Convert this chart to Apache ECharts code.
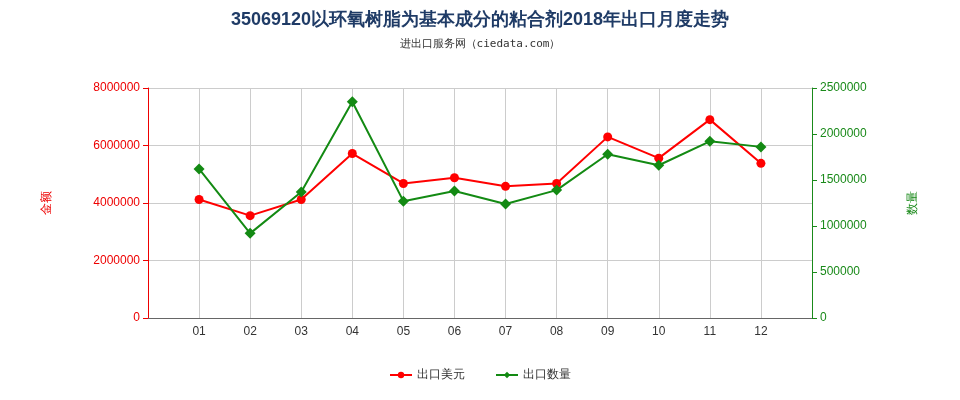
<!DOCTYPE html>
<html><head><meta charset="utf-8">
<script src="https://cdn.jsdelivr.net/npm/echarts@6/dist/echarts.min.js"></script>
<style>body{margin:0}#c{width:960px;height:400px}</style>
</head><body><div id="c"></div>
<script>
var months = ['', '01', '02', '03', '04', '05', '06', '07', '08', '09', '10', '11', '12', ''];
var amount = ['-', 4120000, 3560000, 4120000, 5720000, 4680000, 4880000, 4580000, 4680000, 6300000, 5560000, 6900000, 5380000, '-'];
var quantity = ['-', 1620000, 920000, 1370000, 2350000, 1270000, 1380000, 1240000, 1390000, 1780000, 1660000, 1920000, 1860000, '-'];

var chart = echarts.init(document.getElementById('c'));
chart.setOption({
    title: {
        text: '35069120以环氧树脂为基本成分的粘合剂2018年出口月度走势',
        subtext: '进出口服务网（ciedata.com）',
        left: 'center', top: 6,
        textStyle: {color: '#1f3b66', fontSize: 18, fontWeight: 'bold'},
        subtextStyle: {color: '#333', fontSize: 11, fontFamily: 'DejaVu Sans Mono'}
    },
    legend: {
        bottom: 14, itemGap: 30, itemWidth: 22, itemHeight: 8,
        data: ['出口美元', '出口数量'],
        textStyle: {fontSize: 12, color: '#333'}
    },
    grid: {left: 148, right: 148, top: 88, bottom: 82},
    xAxis: {
        type: 'category', data: months, boundaryGap: false,
        axisLine: {lineStyle: {color: '#666'}},
        axisTick: {show: false},
        axisLabel: {color: '#333', fontSize: 12, interval: 0},
        splitLine: {show: true, lineStyle: {color: '#ccc'}}
    },
    yAxis: [{
        type: 'value', min: 0, max: 8000000, interval: 2000000,
        name: '金额', nameLocation: 'middle', nameGap: 95, nameRotate: 90,
        nameTextStyle: {color: '#e00', fontSize: 12},
        axisLine: {show: true, lineStyle: {color: '#e00'}},
        axisTick: {show: true},
        axisLabel: {color: '#e00', fontSize: 12, formatter: function (v) { return String(v); }},
        splitLine: {lineStyle: {color: '#ccc'}}
    }, {
        type: 'value', min: 0, max: 2500000, interval: 500000,
        name: '数量', nameLocation: 'middle', nameGap: 95, nameRotate: 90,
        nameTextStyle: {color: '#1a8a1a', fontSize: 12},
        axisLine: {show: true, lineStyle: {color: '#1a8a1a'}},
        axisTick: {show: true},
        axisLabel: {color: '#1a8a1a', fontSize: 12, formatter: function (v) { return String(v); }},
        splitLine: {show: false}
    }],
    series: [{
        name: '出口美元', type: 'line', yAxisIndex: 0, data: amount,
        symbol: 'circle', symbolSize: 9,
        itemStyle: {color: '#f00'}, lineStyle: {color: '#f00', width: 2}
    }, {
        name: '出口数量', type: 'line', yAxisIndex: 1, data: quantity,
        symbol: 'diamond', symbolSize: 11,
        itemStyle: {color: '#138a13'}, lineStyle: {color: '#138a13', width: 2}
    }]
});
</script>
</body></html>
